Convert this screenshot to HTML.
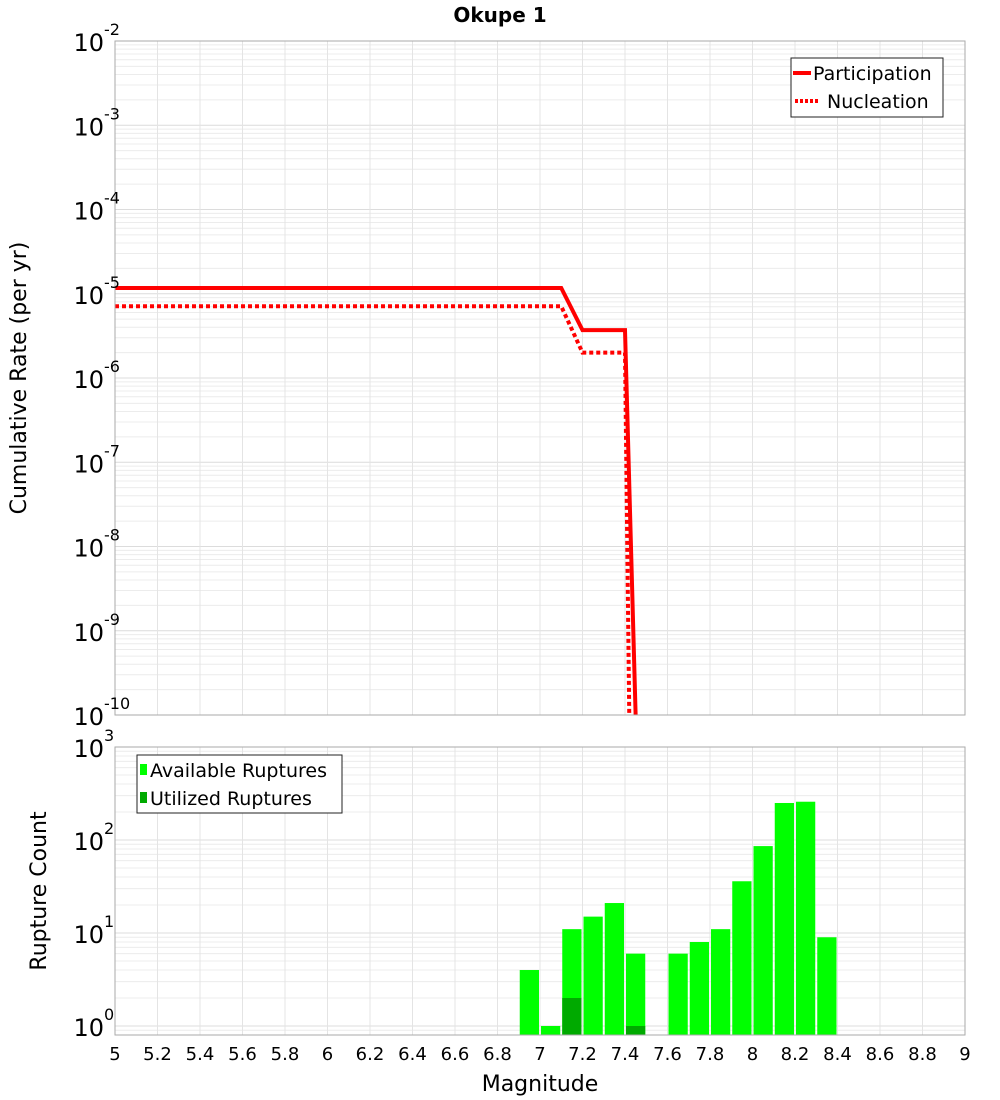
<!DOCTYPE html>
<html><head><meta charset="utf-8"><style>
body{margin:0;background:#fff}
svg{display:block;font-family:"DejaVu Sans","Liberation Sans",sans-serif}
</style></head><body>
<svg id="chart" width="1000" height="1100" xmlns="http://www.w3.org/2000/svg">
<text x="500" y="22" text-anchor="middle" font-size="20" font-weight="bold">Okupe 1</text>
<g id="topg"></g>
<g id="botg"></g>
<text transform="translate(26,378) rotate(-90)" text-anchor="middle" font-size="22">Cumulative Rate (per yr)</text>
<text transform="translate(46,891) rotate(-90)" text-anchor="middle" font-size="22">Rupture Count</text>
<text x="540" y="1091" text-anchor="middle" font-size="22">Magnitude</text>
</svg>
<script>
const xTicks=[5,5.2,5.4,5.6,5.8,6,6.2,6.4,6.6,6.8,7,7.2,7.4,7.6,7.8,8,8.2,8.4,8.6,8.8,9];
const partMag=[5,7.1,7.2,7.4,7.45];
const partRate=[1.17e-5,1.17e-5,3.7e-6,3.7e-6,1e-11];
const nuclMag=[5,7.1,7.2,7.4,7.42];
const nuclRate=[7.1e-6,7.1e-6,2.0e-6,2.0e-6,1e-11];
const binMag=[6.9,7.0,7.1,7.2,7.3,7.4,7.6,7.7,7.8,7.9,8.0,8.1,8.2,8.3];
const available=[4,1,11,15,21,6,6,8,11,36,86,250,258,9];
const utilized=[0,0,2,0,0,1,0,0,0,0,0,0,0,0];
const topExp=[-2,-3,-4,-5,-6,-7,-8,-9,-10];
const botExp=[3,2,1,0];

const NS="http://www.w3.org/2000/svg";
const X0=115,X1=965;
const xs=m=>X0+(m-5)/4*(X1-X0);
const T0=41,T1=715;
const yt=v=>T0+(-2-Math.log10(v))/8*(T1-T0);
const B0=747,B1=1035,BD=93;
const yb=v=>B0+(3-Math.log10(v))*BD;
function mk(p,tag,a){const e=document.createElementNS(NS,tag);for(const k in a)e.setAttribute(k,a[k]);p.appendChild(e);return e;}
const topG=document.getElementById('topg'),botG=document.getElementById('botg');
const svgEl=document.getElementById('chart');

function grid(g,y0,y1,yf,lo,hi){
  for(let e=lo;e<hi;e++)for(let k=1;k<10;k++){const y=yf(k*Math.pow(10,e));if(y<y0||y>y1)continue;
    const l=mk(g,'line',{x1:X0,x2:X1,y1:y,y2:y,stroke:k==1?'#dcdcdc':'#ececec','stroke-width':1});
    
    }
  xTicks.forEach(m=>{const x=xs(m);const l=mk(g,'line',{x1:x,x2:x,y1:y0,y2:y1,stroke:'#e4e4e4','stroke-width':1});
    
    });
}
grid(topG,T0,T1,yt,-10,-2);
grid(botG,B0,B1,yb,-1,3);

function pts(ms,vs){return ms.map((m,i)=>xs(m)+','+Math.min(yt(vs[i]),T1)).join(' ');}
const nl=mk(topG,'polyline',{points:pts(nuclMag,nuclRate),fill:'none',stroke:'#ff0000','stroke-width':4,'stroke-dasharray':'4,3'});


const pl=mk(topG,'polyline',{points:pts(partMag,partRate),fill:'none',stroke:'#ff0000','stroke-width':4});



binMag.forEach((m,i)=>{
  const x=xs(m)+1,w=xs(m+0.1)-xs(m)-2;
  const y=yb(available[i]);
  const r=mk(botG,'rect',{x:x,y:y,width:w,height:B1-y,fill:'#00ff00'});
  
  
  if(utilized[i]>0){const yu=yb(utilized[i]);
    const u=mk(botG,'rect',{x:x,y:yu,width:w,height:B1-yu,fill:'#00aa00'});
    
    }
});

[[T0,T1],[B0,B1]].forEach(([a,b])=>{const f=mk(svgEl,'rect',{x:X0,y:a,width:X1-X0,height:b-a,fill:'none',stroke:'#aaaaaa','stroke-width':1});
  
  });

function ylab(e,y){const t=mk(svgEl,'text',{x:104,y:y+10,'text-anchor':'end','font-size':24});
  
  
  t.textContent='10';
  const s=mk(svgEl,'text',{x:104,y:y-6,'font-size':16});
  
  
  s.textContent=String(e);}
topExp.forEach(e=>ylab(e,yt(Math.pow(10,e))));
botExp.forEach(e=>ylab(e,yb(Math.pow(10,e))));

xTicks.forEach(m=>{const t=mk(svgEl,'text',{x:xs(m),y:1060,'text-anchor':'middle','font-size':18});
  
  
  t.textContent=String(m);});

const lg=mk(svgEl,'g',{});


mk(lg,'rect',{x:791,y:58,width:152,height:59,fill:'#fff',stroke:'#222'});
mk(lg,'line',{x1:793,x2:811,y1:73,y2:73,stroke:'#f00','stroke-width':4});
mk(lg,'line',{x1:795,x2:820,y1:101,y2:101,stroke:'#f00','stroke-width':4,'stroke-dasharray':'3,2'});
const l1=mk(lg,'text',{x:813,y:80,'font-size':19});l1.textContent='Participation';


const l2=mk(lg,'text',{x:827,y:108,'font-size':19});l2.textContent='Nucleation';



const lb=mk(svgEl,'g',{});


mk(lb,'rect',{x:137,y:755,width:205,height:58,fill:'#fff',stroke:'#222'});
mk(lb,'rect',{x:140,y:764,width:7,height:11,fill:'#00ff00'});
mk(lb,'rect',{x:140,y:792,width:7,height:11,fill:'#00aa00'});
const b1=mk(lb,'text',{x:150,y:777,'font-size':19});b1.textContent='Available Ruptures';


const b2=mk(lb,'text',{x:150,y:805,'font-size':19});b2.textContent='Utilized Ruptures';


</script>
</body></html>
